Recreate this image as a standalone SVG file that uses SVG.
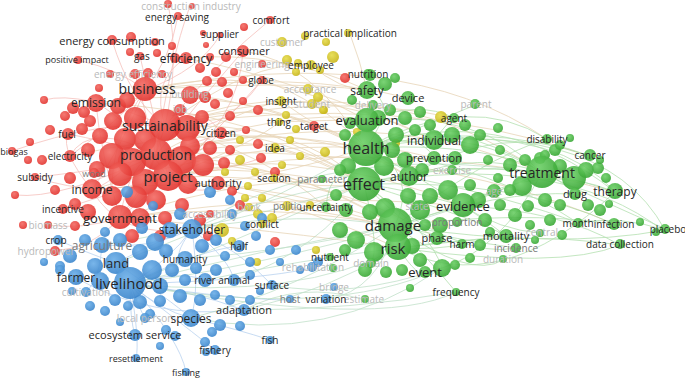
<svg xmlns="http://www.w3.org/2000/svg" width="685" height="379" viewBox="0 0 685 379">
<defs>
<radialGradient id="gr" cx="40%" cy="35%" r="65%"><stop offset="0" stop-color="#f36a63"/><stop offset="1" stop-color="#e2342f"/></radialGradient>
<radialGradient id="gg" cx="40%" cy="35%" r="65%"><stop offset="0" stop-color="#6ccf66"/><stop offset="1" stop-color="#3aa836"/></radialGradient>
<radialGradient id="gb" cx="40%" cy="35%" r="65%"><stop offset="0" stop-color="#6aaee8"/><stop offset="1" stop-color="#3c86cc"/></radialGradient>
<radialGradient id="gy" cx="40%" cy="35%" r="65%"><stop offset="0" stop-color="#e6dc4a"/><stop offset="1" stop-color="#c8b61c"/></radialGradient>
</defs>
<style>
.r{fill:url(#gr);opacity:.9}
.g{fill:url(#gg);opacity:.9}
.b{fill:url(#gb);opacity:.9}
.y{fill:url(#gy);opacity:.9}
text{font-family:"Open Sans","Liberation Sans",sans-serif;text-anchor:middle;fill:#262626}
.f{fill:#b9b9b9}
.m{fill:#7a7a7a}
.s9{font-size:9px}.s10{font-size:10px}.s11{font-size:11px}.s12{font-size:12px}.s13{font-size:13px}.s14{font-size:14px}.s15{font-size:15px}.s16{font-size:16px}
#edges path{fill:none;stroke-width:.8}
.er{stroke:#f09890;opacity:.6}
.et{stroke:#dcbf92;opacity:.65}
.eg{stroke:#96d490;opacity:.7}
.eb{stroke:#9cc0ea;opacity:.7}
.ebg{stroke:#a2d2ae;opacity:.65}
</style>
<rect width="685" height="379" fill="#ffffff"/>
<g id="edges">
<g class="er">
<path d="M165,126 Q130,100 112,40"/><path d="M165,126 Q150,80 186,58"/><path d="M156,155 Q100,140 68,134"/><path d="M156,155 Q110,170 35,177"/><path d="M168,177 Q120,190 63,209"/><path d="M165,126 Q100,120 12,151"/><path d="M145,90 Q120,70 78,60"/><path d="M145,90 Q170,60 178,16"/><path d="M156,155 Q200,100 243,51"/><path d="M165,126 Q220,60 270,20"/><path d="M168,177 Q130,120 96,103"/><path d="M120,218 Q150,180 165,126"/><path d="M92,190 Q120,150 145,90"/><path d="M156,155 Q140,200 120,218"/><path d="M165,126 Q200,100 221,133"/><path d="M168,177 Q200,150 262,80"/><path d="M145,90 Q200,70 220,35"/><path d="M156,155 Q90,120 70,156"/><path d="M120,218 Q80,230 48,225"/><path d="M120,218 Q90,250 55,250"/><path d="M168,177 Q150,100 140,56"/><path d="M156,155 Q170,60 190,6"/><path d="M120,218 Q100,150 96,103"/><path d="M92,190 Q60,150 68,134"/><path d="M165,126 Q120,180 92,190"/><path d="M168,177 Q200,200 218,183"/><path d="M145,90 Q120,120 70,156"/><path d="M156,155 Q140,90 135,74"/><path d="M120,218 Q130,160 156,155"/><path d="M165,126 Q220,140 262,80"/><path d="M168,177 Q100,200 35,177"/><path d="M92,190 Q120,240 192,229"/><path d="M165,126 Q80,90 44,100"/><path d="M156,155 Q60,200 15,195"/><path d="M168,177 Q240,120 243,51"/><path d="M120,218 Q200,150 221,133"/><path d="M145,90 Q110,140 112,196"/><path d="M165,126 Q180,60 168,4"/><path d="M156,155 Q230,130 246,130"/><path d="M168,177 Q230,170 261,158"/>
</g>
<g class="et">
<path d="M165,126 Q270,90 366,148"/><path d="M156,155 Q260,120 364,184"/><path d="M168,177 Q280,150 395,226"/><path d="M165,126 Q300,70 434,140"/><path d="M145,90 Q260,60 367,120"/><path d="M156,155 Q300,110 409,177"/><path d="M168,177 Q300,140 463,206"/><path d="M120,218 Q260,170 364,184"/><path d="M218,183 Q300,170 366,148"/><path d="M145,90 Q280,80 367,90"/><path d="M186,58 Q280,50 367,90"/><path d="M243,51 Q310,60 366,148"/><path d="M92,190 Q240,140 366,148"/><path d="M156,155 Q290,160 395,226"/><path d="M168,177 Q290,200 398,248"/><path d="M120,218 Q260,200 395,226"/><path d="M221,133 Q300,140 364,184"/><path d="M96,103 Q240,80 366,148"/><path d="M165,126 Q380,60 542,173"/><path d="M156,155 Q380,100 542,173"/><path d="M168,177 Q400,130 615,192"/><path d="M145,90 Q400,40 547,139"/><path d="M165,126 Q300,120 364,184"/><path d="M145,90 Q300,100 409,177"/><path d="M92,190 Q260,170 395,226"/><path d="M120,218 Q280,230 398,248"/><path d="M262,80 Q320,100 366,148"/><path d="M165,126 Q260,150 326,207"/><path d="M156,155 Q250,170 322,179"/><path d="M281,101 Q320,130 366,148"/><path d="M275,148 Q320,160 364,184"/><path d="M262,224 Q320,200 364,184"/><path d="M287,206 Q340,215 395,226"/><path d="M311,65 Q340,90 367,90"/><path d="M350,34 Q360,60 367,90"/><path d="M279,122 Q330,120 367,120"/><path d="M274,178 Q320,190 364,184"/><path d="M168,177 Q260,140 279,122"/><path d="M156,155 Q240,110 281,101"/><path d="M165,126 Q250,60 311,65"/><path d="M165,126 Q330,90 454,118"/><path d="M156,155 Q330,130 434,158"/><path d="M168,177 Q330,170 437,238"/><path d="M120,218 Q300,190 463,206"/><path d="M145,90 Q300,70 408,98"/><path d="M96,103 Q260,110 364,184"/><path d="M218,183 Q300,200 395,226"/><path d="M70,156 Q230,120 366,148"/><path d="M186,58 Q300,80 434,140"/><path d="M221,133 Q320,110 367,120"/><path d="M165,126 Q400,90 590,156"/><path d="M156,155 Q420,140 614,224"/>
</g>
<g class="eg">
<path d="M366,148 Q450,110 542,173"/><path d="M364,184 Q450,160 542,173"/><path d="M395,226 Q480,200 542,173"/><path d="M366,148 Q500,100 615,192"/><path d="M364,184 Q500,150 615,192"/><path d="M366,148 Q480,120 590,156"/><path d="M364,184 Q520,180 614,224"/><path d="M395,226 Q520,210 614,224"/><path d="M398,248 Q520,230 620,245"/><path d="M366,148 Q420,170 395,226"/><path d="M364,184 Q410,190 463,206"/><path d="M409,177 Q480,150 542,173"/><path d="M434,140 Q490,140 542,173"/><path d="M463,206 Q500,190 542,173"/><path d="M542,173 Q600,200 668,230"/><path d="M578,223 Q620,215 665,230"/><path d="M364,184 Q430,230 442,268"/><path d="M395,226 Q430,260 456,292"/><path d="M366,148 Q400,100 367,90"/><path d="M366,148 Q440,120 475,105"/><path d="M434,140 Q450,120 454,118"/><path d="M366,148 Q500,170 578,223"/><path d="M398,248 Q470,240 506,236"/><path d="M364,184 Q460,260 516,248"/><path d="M395,226 Q470,280 503,260"/><path d="M366,148 Q600,110 665,230"/><path d="M364,184 Q560,150 665,232"/><path d="M398,248 Q560,270 620,245"/><path d="M366,148 Q470,90 547,139"/><path d="M395,226 Q480,160 547,139"/><path d="M409,177 Q500,120 590,156"/><path d="M463,206 Q540,160 615,192"/><path d="M395,226 Q500,190 575,194"/><path d="M366,148 Q460,200 506,236"/><path d="M364,184 Q420,240 437,238"/><path d="M398,248 Q440,250 462,244"/><path d="M366,148 Q420,130 434,158"/><path d="M367,120 Q420,100 454,118"/><path d="M395,226 Q560,250 665,230"/><path d="M463,206 Q560,210 620,245"/><path d="M364,184 Q330,160 326,207"/><path d="M442,268 Q500,250 542,173"/><path d="M398,248 Q500,300 615,192"/><path d="M367,120 Q480,110 542,173"/><path d="M409,177 Q520,200 578,223"/><path d="M434,140 Q560,130 615,192"/><path d="M364,184 Q480,220 506,236"/><path d="M395,226 Q460,240 516,248"/><path d="M366,148 Q520,140 575,194"/><path d="M398,248 Q420,280 425,272"/><path d="M364,184 Q380,250 371,263"/><path d="M463,206 Q500,230 540,233"/>
</g>
<g class="eb">
<path d="M130,284 Q110,270 116,263"/><path d="M130,284 Q90,280 76,278"/><path d="M130,284 Q160,310 191,318"/><path d="M130,284 Q130,320 135,335"/><path d="M130,284 Q170,260 192,229"/><path d="M130,284 Q180,270 205,280"/><path d="M130,284 Q190,290 244,310"/><path d="M130,284 Q140,340 136,359"/><path d="M130,284 Q180,340 186,372"/><path d="M130,284 Q190,330 215,350"/><path d="M192,229 Q150,250 102,245"/><path d="M192,229 Q170,260 185,259"/><path d="M116,263 Q80,250 58,240"/><path d="M191,318 Q240,330 270,340"/><path d="M130,284 Q240,300 290,300"/><path d="M130,284 Q200,250 239,246"/><path d="M192,229 Q230,260 234,280"/><path d="M102,245 Q100,280 86,292"/><path d="M130,284 Q140,310 145,318"/><path d="M192,229 Q240,250 272,285"/><path d="M116,263 Q180,230 192,229"/><path d="M130,284 Q260,280 312,268"/><path d="M116,263 Q170,300 191,318"/><path d="M192,229 Q200,290 191,318"/><path d="M76,278 Q150,320 244,310"/>
</g>
<g class="ebg">
<path d="M130,284 Q260,250 395,226"/><path d="M130,284 Q260,230 364,184"/><path d="M191,318 Q330,345 442,268"/><path d="M244,310 Q350,310 456,292"/><path d="M130,284 Q300,300 398,248"/><path d="M192,229 Q300,210 395,226"/><path d="M205,280 Q300,260 398,248"/><path d="M116,263 Q260,210 366,148"/><path d="M192,229 Q280,190 364,184"/><path d="M244,310 Q330,290 398,248"/><path d="M272,285 Q350,300 442,268"/><path d="M326,300 Q380,290 395,226"/><path d="M130,284 Q330,320 442,268"/><path d="M191,318 Q300,290 395,226"/><path d="M234,280 Q320,250 364,184"/><path d="M130,284 Q300,260 463,206"/><path d="M192,229 Q330,140 542,173"/><path d="M244,310 Q300,280 365,300"/><path d="M102,245 Q250,220 364,184"/><path d="M185,259 Q300,250 395,226"/><path d="M130,284 Q380,330 456,292"/>
</g>
</g>
<g id="bubbles">
<circle class="r" cx="168" cy="4" r="4"/><circle class="r" cx="131" cy="37" r="5"/><circle class="r" cx="155" cy="42" r="4"/><circle class="r" cx="172" cy="46" r="4"/><circle class="r" cx="203" cy="33" r="3"/><circle class="r" cx="206" cy="45" r="3"/><circle class="r" cx="244" cy="27" r="4"/>
<circle class="r" cx="130" cy="52" r="4"/><circle class="r" cx="157" cy="53" r="4"/><circle class="r" cx="175" cy="58" r="5"/><circle class="r" cx="210" cy="57" r="4"/><circle class="r" cx="226" cy="57" r="5"/><circle class="r" cx="200" cy="68" r="5"/><circle class="r" cx="216" cy="72" r="5"/><circle class="r" cx="234" cy="72" r="4"/><circle class="r" cx="243" cy="80" r="4"/>
<circle class="r" cx="110" cy="74" r="4"/><circle class="r" cx="148" cy="73" r="5"/><circle class="r" cx="162" cy="74" r="4"/><circle class="r" cx="207" cy="81" r="5"/><circle class="r" cx="222" cy="82" r="5"/><circle class="r" cx="99" cy="88" r="4"/><circle class="r" cx="205" cy="97" r="6"/><circle class="r" cx="228" cy="93" r="5"/>
<circle class="r" cx="44" cy="100" r="4"/><circle class="r" cx="73" cy="108" r="6"/><circle class="r" cx="84" cy="112" r="6"/><circle class="r" cx="118" cy="106" r="8"/><circle class="r" cx="127" cy="100" r="8"/><circle class="r" cx="215" cy="104" r="5"/><circle class="r" cx="243" cy="101" r="4"/><circle class="r" cx="258" cy="110" r="5"/>
<circle class="r" cx="65" cy="116" r="5"/><circle class="r" cx="90" cy="121" r="6"/><circle class="r" cx="113" cy="121" r="9"/><circle class="r" cx="135" cy="118" r="11"/><circle class="r" cx="187" cy="128" r="13"/><circle class="r" cx="202" cy="117" r="7"/><circle class="r" cx="230" cy="116" r="5"/>
<circle class="r" cx="50" cy="130" r="5"/><circle class="r" cx="82" cy="129" r="6"/><circle class="r" cx="100" cy="136" r="8"/><circle class="r" cx="125" cy="139" r="11"/><circle class="r" cx="145" cy="140" r="11"/><circle class="r" cx="190" cy="146" r="10"/><circle class="r" cx="210" cy="148" r="7"/><circle class="r" cx="230" cy="150" r="5"/><circle class="r" cx="246" cy="130" r="4"/>
<circle class="r" cx="30" cy="142" r="4"/><circle class="r" cx="88" cy="150" r="7"/><circle class="r" cx="112" cy="156" r="13"/><circle class="r" cx="132" cy="162" r="14"/><circle class="r" cx="182" cy="160" r="14"/><circle class="r" cx="203" cy="165" r="11"/><circle class="r" cx="224" cy="163" r="6"/><circle class="r" cx="261" cy="158" r="5"/>
<circle class="r" cx="42" cy="160" r="5"/><circle class="r" cx="97" cy="169" r="8"/><circle class="r" cx="120" cy="174" r="12"/><circle class="r" cx="145" cy="182" r="13"/><circle class="r" cx="188" cy="184" r="10"/><circle class="r" cx="232" cy="191" r="5"/><circle class="r" cx="275" cy="172" r="5"/>
<circle class="r" cx="28" cy="160" r="4"/><circle class="r" cx="70" cy="178" r="6"/><circle class="r" cx="112" cy="196" r="10"/><circle class="r" cx="136" cy="197" r="11"/><circle class="r" cx="156" cy="200" r="10"/><circle class="r" cx="182" cy="205" r="7"/><circle class="r" cx="240" cy="205" r="5"/>
<circle class="r" cx="15" cy="195" r="4"/><circle class="r" cx="55" cy="190" r="5"/><circle class="r" cx="75" cy="204" r="6"/><circle class="r" cx="88" cy="212" r="8"/><circle class="r" cx="140" cy="218" r="10"/><circle class="r" cx="165" cy="218" r="7"/><circle class="r" cx="200" cy="220" r="6"/>
<circle class="r" cx="23" cy="225" r="4"/><circle class="r" cx="75" cy="226" r="5"/><circle class="r" cx="132" cy="236" r="7"/><circle class="r" cx="160" cy="236" r="6"/><circle class="r" cx="208" cy="236" r="5"/><circle class="r" cx="275" cy="242" r="5"/><circle class="r" cx="345" cy="78" r="5"/><circle class="r" cx="258" cy="144" r="5"/>
<circle class="y" cx="305" cy="36" r="4"/><circle class="y" cx="326" cy="42" r="4"/><circle class="y" cx="333" cy="57" r="6"/><circle class="y" cx="298" cy="63" r="4"/><circle class="y" cx="287" cy="60" r="5"/><circle class="y" cx="296" cy="72" r="4"/><circle class="y" cx="320" cy="70" r="4"/><circle class="y" cx="318" cy="97" r="5"/><circle class="y" cx="324" cy="110" r="4"/><circle class="y" cx="286" cy="115" r="4"/><circle class="y" cx="296" cy="129" r="4"/><circle class="y" cx="290" cy="140" r="4"/><circle class="y" cx="300" cy="156" r="4"/><circle class="y" cx="240" cy="160" r="5"/><circle class="y" cx="225" cy="172" r="4"/><circle class="y" cx="248" cy="186" r="4"/><circle class="y" cx="255" cy="172" r="4"/><circle class="y" cx="282" cy="165" r="4"/><circle class="y" cx="245" cy="198" r="4"/><circle class="y" cx="258" cy="214" r="5"/><circle class="y" cx="272" cy="218" r="5"/><circle class="y" cx="310" cy="205" r="4"/><circle class="y" cx="222" cy="230" r="7"/><circle class="y" cx="257" cy="262" r="4"/><circle class="y" cx="316" cy="250" r="4"/><circle class="y" cx="441" cy="117" r="6"/><circle class="y" cx="323" cy="110" r="4"/><circle class="y" cx="325" cy="152" r="5"/><circle class="y" cx="357" cy="132" r="4"/><circle class="y" cx="396" cy="143" r="4"/><circle class="y" cx="240" cy="140" r="4"/><circle class="y" cx="262" cy="198" r="4"/><circle class="y" cx="232" cy="241" r="4"/>
<circle class="g" cx="370" cy="75" r="6"/><circle class="g" cx="385" cy="84" r="7"/><circle class="g" cx="395" cy="78" r="5"/><circle class="g" cx="352" cy="100" r="5"/><circle class="g" cx="390" cy="110" r="6"/><circle class="g" cx="405" cy="118" r="7"/><circle class="g" cx="420" cy="112" r="6"/><circle class="g" cx="396" cy="135" r="8"/><circle class="g" cx="415" cy="130" r="6"/><circle class="g" cx="345" cy="135" r="6"/><circle class="g" cx="348" cy="166" r="8"/><circle class="g" cx="384" cy="166" r="10"/><circle class="g" cx="392" cy="150" r="8"/><circle class="g" cx="405" cy="160" r="8"/><circle class="g" cx="422" cy="170" r="7"/><circle class="g" cx="430" cy="125" r="6"/><circle class="g" cx="452" cy="135" r="8"/><circle class="g" cx="465" cy="125" r="6"/><circle class="g" cx="470" cy="145" r="9"/><circle class="g" cx="480" cy="135" r="6"/><circle class="g" cx="488" cy="160" r="5"/><circle class="g" cx="500" cy="150" r="5"/><circle class="g" cx="510" cy="165" r="7"/><circle class="g" cx="525" cy="160" r="6"/><circle class="g" cx="522" cy="186" r="10"/><circle class="g" cx="540" cy="158" r="6"/><circle class="g" cx="555" cy="150" r="6"/><circle class="g" cx="560" cy="166" r="7"/><circle class="g" cx="574" cy="178" r="12"/><circle class="g" cx="586" cy="170" r="8"/><circle class="g" cx="598" cy="168" r="6"/><circle class="g" cx="606" cy="178" r="5"/><circle class="g" cx="600" cy="210" r="6"/><circle class="g" cx="609" cy="204" r="4"/><circle class="g" cx="588" cy="205" r="6"/><circle class="g" cx="560" cy="205" r="6"/><circle class="g" cx="545" cy="200" r="7"/><circle class="g" cx="528" cy="206" r="6"/><circle class="g" cx="515" cy="215" r="7"/><circle class="g" cx="500" cy="205" r="6"/><circle class="g" cx="485" cy="220" r="7"/><circle class="g" cx="478" cy="200" r="8"/><circle class="g" cx="448" cy="190" r="10"/><circle class="g" cx="430" cy="196" r="8"/><circle class="g" cx="420" cy="210" r="10"/><circle class="g" cx="440" cy="225" r="8"/><circle class="g" cx="412" cy="246" r="8"/><circle class="g" cx="420" cy="260" r="7"/><circle class="g" cx="385" cy="208" r="10"/><circle class="g" cx="370" cy="212" r="8"/><circle class="g" cx="346" cy="210" r="7"/><circle class="g" cx="340" cy="230" r="8"/><circle class="g" cx="356" cy="240" r="9"/><circle class="g" cx="374" cy="252" r="10"/><circle class="g" cx="365" cy="270" r="7"/><circle class="g" cx="386" cy="272" r="6"/><circle class="g" cx="402" cy="270" r="6"/><circle class="g" cx="345" cy="250" r="6"/><circle class="g" cx="336" cy="195" r="6"/><circle class="g" cx="340" cy="170" r="6"/><circle class="g" cx="350" cy="123" r="6"/><circle class="g" cx="425" cy="225" r="6"/><circle class="g" cx="480" cy="245" r="6"/><circle class="g" cx="490" cy="232" r="5"/><circle class="g" cx="530" cy="225" r="5"/><circle class="g" cx="550" cy="220" r="6"/><circle class="g" cx="562" cy="235" r="5"/><circle class="g" cx="455" cy="265" r="5"/><circle class="g" cx="470" cy="258" r="5"/><circle class="g" cx="442" cy="268" r="9"/><circle class="g" cx="410" cy="288" r="4"/><circle class="g" cx="640" cy="222" r="4"/><circle class="g" cx="656" cy="232" r="4"/><circle class="g" cx="560" cy="145" r="5"/><circle class="g" cx="570" cy="138" r="4"/><circle class="g" cx="545" cy="155" r="5"/><circle class="g" cx="600" cy="160" r="4"/><circle class="g" cx="498" cy="178" r="5"/><circle class="g" cx="510" cy="190" r="6"/><circle class="g" cx="535" cy="240" r="4"/><circle class="g" cx="470" cy="185" r="6"/><circle class="g" cx="378" cy="118" r="8"/><circle class="g" cx="408" cy="196" r="8"/><circle class="g" cx="455" cy="158" r="7"/><circle class="g" cx="498" cy="128" r="5"/><circle class="g" cx="333" cy="268" r="4"/>
<circle class="b" cx="180" cy="214" r="6"/><circle class="b" cx="170" cy="230" r="8"/><circle class="b" cx="155" cy="242" r="9"/><circle class="b" cx="140" cy="252" r="8"/><circle class="b" cx="166" cy="251" r="7"/><circle class="b" cx="202" cy="246" r="7"/><circle class="b" cx="216" cy="240" r="6"/><circle class="b" cx="225" cy="256" r="5"/><circle class="b" cx="250" cy="262" r="5"/><circle class="b" cx="120" cy="240" r="7"/><circle class="b" cx="85" cy="240" r="6"/><circle class="b" cx="70" cy="256" r="7"/><circle class="b" cx="60" cy="266" r="5"/><circle class="b" cx="95" cy="266" r="8"/><circle class="b" cx="100" cy="281" r="9"/><circle class="b" cx="152" cy="270" r="10"/><circle class="b" cx="160" cy="286" r="8"/><circle class="b" cx="172" cy="270" r="7"/><circle class="b" cx="196" cy="268" r="6"/><circle class="b" cx="216" cy="270" r="6"/><circle class="b" cx="250" cy="275" r="5"/><circle class="b" cx="260" cy="291" r="4"/><circle class="b" cx="180" cy="296" r="7"/><circle class="b" cx="160" cy="301" r="6"/><circle class="b" cx="140" cy="302" r="7"/><circle class="b" cx="115" cy="300" r="6"/><circle class="b" cx="105" cy="311" r="5"/><circle class="b" cx="200" cy="300" r="6"/><circle class="b" cx="215" cy="295" r="5"/><circle class="b" cx="230" cy="300" r="5"/><circle class="b" cx="220" cy="325" r="6"/><circle class="b" cx="212" cy="332" r="5"/><circle class="b" cx="205" cy="342" r="5"/><circle class="b" cx="150" cy="314" r="5"/><circle class="b" cx="120" cy="322" r="4"/><circle class="b" cx="175" cy="336" r="5"/><circle class="b" cx="160" cy="346" r="4"/><circle class="b" cx="166" cy="330" r="5"/><circle class="b" cx="250" cy="300" r="5"/><circle class="b" cx="240" cy="326" r="5"/><circle class="b" cx="60" cy="270" r="5"/><circle class="b" cx="44" cy="262" r="4"/><circle class="b" cx="296" cy="250" r="5"/><circle class="b" cx="300" cy="270" r="4"/><circle class="b" cx="318" cy="262" r="5"/><circle class="b" cx="280" cy="262" r="4"/><circle class="b" cx="270" cy="250" r="5"/><circle class="b" cx="245" cy="226" r="5"/><circle class="b" cx="232" cy="214" r="5"/><circle class="b" cx="210" cy="192" r="6"/><circle class="b" cx="230" cy="200" r="5"/><circle class="b" cx="142" cy="228" r="6"/><circle class="b" cx="105" cy="232" r="5"/><circle class="b" cx="72" cy="291" r="4"/><circle class="b" cx="90" cy="306" r="5"/><circle class="b" cx="128" cy="306" r="5"/><circle class="b" cx="127" cy="192" r="6"/><circle class="b" cx="153" cy="206" r="5"/><circle class="b" cx="206" cy="352" r="4"/><circle class="b" cx="262" cy="218" r="5"/><circle class="b" cx="256" cy="236" r="5"/><circle class="b" cx="185" cy="280" r="6"/>
</g>
<g id="n-construction-industry"><circle class="r" cx="192" cy="6" r="3"/><text class="f s10" x="191" y="10">construction industry</text></g>
<g id="n-energy-saving"><circle class="r" cx="178" cy="16" r="4"/><text class="s10" x="177" y="21">energy saving</text></g>
<g id="n-comfort"><circle class="r" cx="270" cy="20" r="4"/><text class="s10" x="271" y="24">comfort</text></g>
<g id="n-supplier"><circle class="r" cx="220" cy="35" r="3"/><text class="s10" x="220" y="38">supplier</text></g>
<g id="n-energy-consumption"><circle class="r" cx="112" cy="40" r="5"/><text class="s11" x="112" y="45">energy consumption</text></g>
<g id="n-positive-impact"><circle class="r" cx="78" cy="60" r="4"/><text class="s9" x="77" y="63">positive impact</text></g>
<g id="n-gas"><circle class="r" cx="140" cy="56" r="4"/><text class="s10" x="142" y="60">gas</text></g>
<g id="n-efficiency"><circle class="r" cx="186" cy="58" r="6"/><text class="s12" x="186" y="63">efficiency</text></g>
<g id="n-energy-efficiency"><circle class="r" cx="135" cy="74" r="5"/><text class="f s10" x="133" y="78">energy efficiency</text></g>
<g id="n-consumer"><circle class="r" cx="243" cy="51" r="6"/><text class="s11" x="244" y="55">consumer</text></g>
<g id="n-engineering"><circle class="r" cx="262" cy="64" r="4"/><text class="f s10" x="262" y="68">engineering</text></g>
<g id="n-globe"><circle class="r" cx="262" cy="80" r="4"/><text class="s10" x="261" y="84">globe</text></g>
<g id="n-building"><circle class="r" cx="190" cy="95" r="9"/><text class="f s10" x="190" y="98">building</text></g>
<g id="n-business"><circle class="r" cx="145" cy="89" r="12"/><text class="s14" x="147" y="94">business</text></g>
<g id="n-emission"><circle class="r" cx="96" cy="103" r="9"/><text class="s12" x="96" y="107">emission</text></g>
<g id="n-job"><circle class="r" cx="180" cy="110" r="6"/><text class="f s10" x="180" y="113">job</text></g>
<g id="n-sustainability"><circle class="r" cx="165" cy="125" r="16"/><text class="s14" x="165" y="131">sustainability</text></g>
<g id="n-citizen"><circle class="r" cx="221" cy="133" r="6"/><text class="s10" x="221" y="137">citizen</text></g>
<g id="n-fuel"><circle class="r" cx="68" cy="134" r="6"/><text class="s10" x="67" y="138">fuel</text></g>
<g id="n-biogas"><circle class="r" cx="12" cy="151" r="4"/><text class="s9" x="14" y="155">biogas</text></g>
<g id="n-electricity"><circle class="r" cx="70" cy="156" r="6"/><text class="s10" x="70" y="160">electricity</text></g>
<g id="n-production"><circle class="r" cx="156" cy="154" r="16"/><text class="s14" x="156" y="160">production</text></g>
<g id="n-wood"><circle class="r" cx="94" cy="173" r="5"/><text class="m s9" x="94" y="177">wood</text></g>
<g id="n-subsidy"><circle class="r" cx="35" cy="177" r="4"/><text class="s10" x="35" y="181">subsidy</text></g>
<g id="n-project"><circle class="r" cx="168" cy="176" r="15"/><text class="s15" x="168" y="182">project</text></g>
<g id="n-authority"><circle class="r" cx="218" cy="183" r="7"/><text class="s11" x="218" y="187">authority</text></g>
<g id="n-income"><circle class="r" cx="92" cy="189" r="10"/><text class="s12" x="92" y="194">income</text></g>
<g id="n-incentive"><circle class="r" cx="63" cy="209" r="5"/><text class="s10" x="63" y="213">incentive</text></g>
<g id="n-government"><circle class="r" cx="120" cy="217" r="12"/><text class="s13" x="120" y="223">government</text></g>
<g id="n-biomass"><circle class="r" cx="48" cy="225" r="4"/><text class="f s10" x="48" y="229">biomass</text></g>
<g id="n-hydropower"><circle class="r" cx="55" cy="251" r="5"/><text class="f s10" x="46" y="255">hydropower</text></g>
<g id="n-accessibility"><circle class="r" cx="210" cy="214" r="4"/><text class="f s10" x="210" y="218">accessibility</text></g>
<g id="n-practical-implication"><circle class="y" cx="348" cy="33" r="4"/><text class="s10" x="350" y="37">practical implication</text></g>
<g id="n-customer"><circle class="y" cx="282" cy="42" r="5"/><text class="f s10" x="282" y="46">customer</text></g>
<g id="n-employee"><circle class="y" cx="311" cy="65" r="5"/><text class="s10" x="311" y="69">employee</text></g>
<g id="n-acceptance"><circle class="y" cx="308" cy="89" r="5"/><text class="f s10" x="310" y="93">acceptance</text></g>
<g id="n-insight"><circle class="y" cx="281" cy="101" r="5"/><text class="s10" x="281" y="105">insight</text></g>
<g id="n-student"><circle class="y" cx="312" cy="104" r="5"/><text class="f s10" x="312" y="108">student</text></g>
<g id="n-thing"><circle class="y" cx="279" cy="122" r="4"/><text class="s10" x="279" y="126">thing</text></g>
<g id="n-target"><circle class="r" cx="314" cy="126" r="5"/><text class="s10" x="314" y="130">target</text></g>
<g id="n-idea"><circle class="y" cx="275" cy="148" r="5"/><text class="s10" x="275" y="152">idea</text></g>
<g id="n-section"><circle class="y" cx="274" cy="178" r="4"/><text class="s10" x="274" y="182">section</text></g>
<g id="n-parameter"><circle class="g" cx="322" cy="179" r="4"/><text class="m s10" x="322" y="183">parameter</text></g>
<g id="n-book"><circle class="y" cx="249" cy="207" r="4"/><text class="f s10" x="249" y="211">book</text></g>
<g id="n-politic"><circle class="y" cx="287" cy="206" r="5"/><text class="m s10" x="287" y="210">politic</text></g>
<g id="n-conflict"><circle class="y" cx="262" cy="224" r="4"/><text class="s10" x="262" y="228">conflict</text></g>
<g id="n-nutrient"><circle class="g" cx="330" cy="257" r="4"/><text class="s10" x="330" y="261">nutrient</text></g>
<g id="n-nutrition"><circle class="g" cx="368" cy="74" r="5"/><text class="s10" x="368" y="78">nutrition</text></g>
<g id="n-safety"><circle class="g" cx="367" cy="90" r="9"/><text class="s12" x="367" y="95">safety</text></g>
<g id="n-device"><circle class="g" cx="408" cy="98" r="7"/><text class="s11" x="408" y="102">device</text></g>
<g id="n-delivery"><circle class="g" cx="373" cy="105" r="5"/><text class="f s10" x="373" y="109">delivery</text></g>
<g id="n-parent"><circle class="g" cx="475" cy="104" r="5"/><text class="f s10" x="476" y="108">parent</text></g>
<g id="n-agent"><circle class="g" cx="454" cy="118" r="5"/><text class="s10" x="454" y="122">agent</text></g>
<g id="n-evaluation"><circle class="g" cx="367" cy="120" r="12"/><text class="s13" x="367" y="125">evaluation</text></g>
<g id="n-individual"><circle class="g" cx="434" cy="140" r="10"/><text class="s12" x="434" y="145">individual</text></g>
<g id="n-disability"><circle class="g" cx="547" cy="139" r="5"/><text class="s10" x="547" y="143">disability</text></g>
<g id="n-health"><circle class="g" cx="366" cy="148" r="18"/><text class="s16" x="366" y="154">health</text></g>
<g id="n-cancer"><circle class="g" cx="590" cy="155" r="6"/><text class="s10" x="590" y="159">cancer</text></g>
<g id="n-prevention"><circle class="g" cx="434" cy="158" r="7"/><text class="s11" x="434" y="162">prevention</text></g>
<g id="n-exercise"><circle class="g" cx="452" cy="170" r="5"/><text class="f s10" x="452" y="174">exercise</text></g>
<g id="n-author"><circle class="g" cx="409" cy="176" r="10"/><text class="s12" x="409" y="181">author</text></g>
<g id="n-treatment"><circle class="g" cx="542" cy="172" r="16"/><text class="s14" x="542" y="178">treatment</text></g>
<g id="n-effect"><circle class="g" cx="364" cy="184" r="17"/><text class="s16" x="364" y="190">effect</text></g>
<g id="n-drug"><circle class="g" cx="575" cy="194" r="6"/><text class="s11" x="575" y="198">drug</text></g>
<g id="n-therapy"><circle class="g" cx="615" cy="191" r="8"/><text class="s12" x="615" y="196">therapy</text></g>
<g id="n-age"><circle class="g" cx="494" cy="191" r="7"/><text class="f s10" x="494" y="195">age</text></g>
<g id="n-evidence"><circle class="g" cx="463" cy="205" r="12"/><text class="s13" x="463" y="211">evidence</text></g>
<g id="n-state"><circle class="g" cx="417" cy="206" r="5"/><text class="f s10" x="417" y="210">state</text></g>
<g id="n-uncertainty"><circle class="g" cx="326" cy="207" r="5"/><text class="s10" x="326" y="211">uncertainty</text></g>
<g id="n-proportion"><circle class="g" cx="457" cy="222" r="5"/><text class="m s10" x="457" y="226">proportion</text></g>
<g id="n-damage"><circle class="g" cx="395" cy="225" r="17"/><text class="s15" x="393" y="231">damage</text></g>
<g id="n-month"><circle class="g" cx="578" cy="223" r="5"/><text class="s10" x="578" y="227">month</text></g>
<g id="n-infection"><circle class="g" cx="614" cy="224" r="6"/><text class="s10" x="614" y="228">infection</text></g>
<g id="n-placebo"><circle class="g" cx="665" cy="229" r="5"/><text class="s10" x="668" y="233">placebo</text></g>
<g id="n-phase"><circle class="g" cx="437" cy="238" r="7"/><text class="s11" x="437" y="242">phase</text></g>
<g id="n-harm"><circle class="g" cx="462" cy="244" r="5"/><text class="s10" x="462" y="248">harm</text></g>
<g id="n-central"><circle class="g" cx="540" cy="233" r="4"/><text class="f s10" x="542" y="236">central</text></g>
<g id="n-mortality"><circle class="g" cx="506" cy="236" r="7"/><text class="s11" x="506" y="240">mortality</text></g>
<g id="n-risk"><circle class="g" cx="398" cy="247" r="13"/><text class="s15" x="393" y="254">risk</text></g>
<g id="n-incidence"><circle class="g" cx="516" cy="248" r="5"/><text class="m s10" x="516" y="252">incidence</text></g>
<g id="n-data-collection"><circle class="g" cx="620" cy="244" r="5"/><text class="s10" x="620" y="248">data collection</text></g>
<g id="n-domain"><circle class="g" cx="371" cy="263" r="5"/><text class="f s10" x="371" y="267">domain</text></g>
<g id="n-duration"><circle class="g" cx="503" cy="259" r="4"/><text class="f s10" x="503" y="263">duration</text></g>
<g id="n-event"><circle class="g" cx="425" cy="272" r="6"/><text class="s13" x="425" y="277">event</text></g>
<g id="n-frequency"><circle class="g" cx="456" cy="292" r="4"/><text class="s10" x="456" y="296">frequency</text></g>
<g id="n-estimate"><circle class="g" cx="365" cy="299" r="4"/><text class="f s10" x="364" y="303">estimate</text></g>
<g id="n-stakeholder"><circle class="b" cx="192" cy="229" r="10"/><text class="s12" x="192" y="234">stakeholder</text></g>
<g id="n-half"><circle class="b" cx="239" cy="246" r="6"/><text class="s10" x="239" y="250">half</text></g>
<g id="n-agriculture"><circle class="b" cx="102" cy="245" r="8"/><text class="m s12" x="102" y="250">agriculture</text></g>
<g id="n-crop"><circle class="b" cx="58" cy="240" r="5"/><text class="s10" x="56" y="244">crop</text></g>
<g id="n-humanity"><circle class="b" cx="185" cy="259" r="8"/><text class="s10" x="185" y="263">humanity</text></g>
<g id="n-land"><circle class="b" cx="116" cy="263" r="11"/><text class="s13" x="116" y="268">land</text></g>
<g id="n-rehabilitation"><circle class="b" cx="312" cy="267" r="5"/><text class="f s10" x="313" y="271">rehabilitation</text></g>
<g id="n-river"><circle class="b" cx="205" cy="280" r="7"/><text class="s10" x="205" y="284">river</text></g>
<g id="n-animal"><circle class="b" cx="234" cy="280" r="6"/><text class="s10" x="234" y="284">animal</text></g>
<g id="n-farmer"><circle class="b" cx="76" cy="277" r="8"/><text class="s12" x="76" y="282">farmer</text></g>
<g id="n-livelihood"><circle class="b" cx="130" cy="283" r="16"/><text class="s15" x="129" y="289">livelihood</text></g>
<g id="n-surface"><circle class="b" cx="272" cy="285" r="5"/><text class="s10" x="272" y="289">surface</text></g>
<g id="n-cultivation"><circle class="b" cx="86" cy="292" r="5"/><text class="f s10" x="86" y="296">cultivation</text></g>
<g id="n-bridge"><circle class="b" cx="334" cy="287" r="4"/><text class="f s10" x="334" y="291">bridge</text></g>
<g id="n-host"><circle class="b" cx="290" cy="299" r="4"/><text class="m s10" x="290" y="303">host</text></g>
<g id="n-variation"><circle class="b" cx="326" cy="299" r="5"/><text class="s10" x="326" y="303">variation</text></g>
<g id="n-adaptation"><circle class="b" cx="244" cy="310" r="6"/><text class="s11" x="244" y="314">adaptation</text></g>
<g id="n-local-person"><circle class="b" cx="145" cy="318" r="5"/><text class="f s10" x="145" y="322">local person</text></g>
<g id="n-species"><circle class="b" cx="191" cy="318" r="9"/><text class="s12" x="191" y="323">species</text></g>
<g id="n-ecosystem-service"><circle class="b" cx="135" cy="335" r="6"/><text class="s11" x="135" y="339">ecosystem service</text></g>
<g id="n-fishery"><circle class="b" cx="215" cy="350" r="5"/><text class="s10" x="215" y="354">fishery</text></g>
<g id="n-fish"><circle class="b" cx="270" cy="340" r="4"/><text class="s10" x="270" y="344">fish</text></g>
<g id="n-resettlement"><circle class="b" cx="136" cy="358" r="4"/><text class="s9" x="136" y="362">resettlement</text></g>
<g id="n-fishing"><circle class="b" cx="186" cy="372" r="4"/><text class="s9" x="186" y="376">fishing</text></g>
</svg>
